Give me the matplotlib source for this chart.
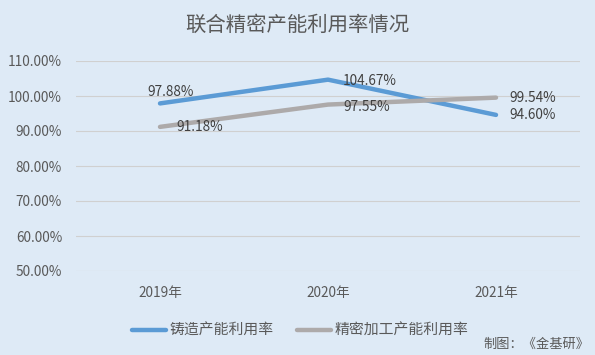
import matplotlib
matplotlib.use("Agg")
import matplotlib.pyplot as plt
from matplotlib.ticker import FuncFormatter

plt.rcParams['font.family'] = ['Noto Sans CJK SC', 'DejaVu Sans']

categories = ["2019年", "2020年", "2021年"]
casting = [97.88, 104.67, 94.60]
machining = [91.18, 97.55, 99.54]
series_names = ["铸造产能利用率", "精密加工产能利用率"]
yticks = [50, 60, 70, 80, 90, 100, 110]

bg = "#DEEAF6"
fig = plt.figure(figsize=(5.95, 3.55), dpi=100, facecolor=bg)
ax = fig.add_axes([76/595, 1-271/355, 504/595, 210/355], facecolor=bg)

x = range(len(categories))
l1, = ax.plot(x, casting, color="#5B9BD5", lw=3.2, solid_capstyle="round", label=series_names[0], zorder=3)
l2, = ax.plot(x, machining, color="#ADAAAA", lw=3.2, solid_capstyle="round", label=series_names[1], zorder=3)

ax.set_xlim(-0.5, 2.5)
ax.set_ylim(50, 110)
ax.set_yticks(yticks)
ax.yaxis.set_major_formatter(FuncFormatter(lambda v, p: f"{v:.2f}%"))
ax.set_xticks(list(x))
ax.set_xticklabels(categories)
ax.grid(axis="y", color="#D0D0D0", lw=0.8)
ax.set_axisbelow(True)
for s in ax.spines.values():
    s.set_visible(False)
ax.tick_params(length=0, labelsize=9.8, colors="#595959")
ax.tick_params(axis="y", pad=10)
ax.tick_params(axis="x", pad=11)

offsets1 = [(11, 11), (15, -1), (13, 0)]
offsets2 = [(16, 0), (15, -2), (13, 0)]
for i, v in enumerate(casting):
    ax.annotate(f"{v:.2f}%", (i, v), xytext=offsets1[i], textcoords="offset pixels",
                ha="center" if i == 0 else "left", va="center", fontsize=9.8, color="#404040")
for i, v in enumerate(machining):
    ax.annotate(f"{v:.2f}%", (i, v), xytext=offsets2[i], textcoords="offset pixels",
                ha="left", va="center", fontsize=9.8, color="#404040")

fig.text(0.5, 1-25/355, "联合精密产能利用率情况", ha="center", va="center", fontsize=14.7, color="#595959")

fig.legend(handles=[l1, l2], loc="center", bbox_to_anchor=(300/595, 1-331/355), ncol=2,
           frameon=False, fontsize=10.7, labelcolor="#595959", handlelength=2.3,
           handletextpad=0.2, columnspacing=1.6)

fig.text(589/595, 1-344/355, "制图：《金基研》", ha="right", va="center", fontsize=9.5, color="#595959")

fig.savefig("out.png", dpi=100, facecolor=bg)
